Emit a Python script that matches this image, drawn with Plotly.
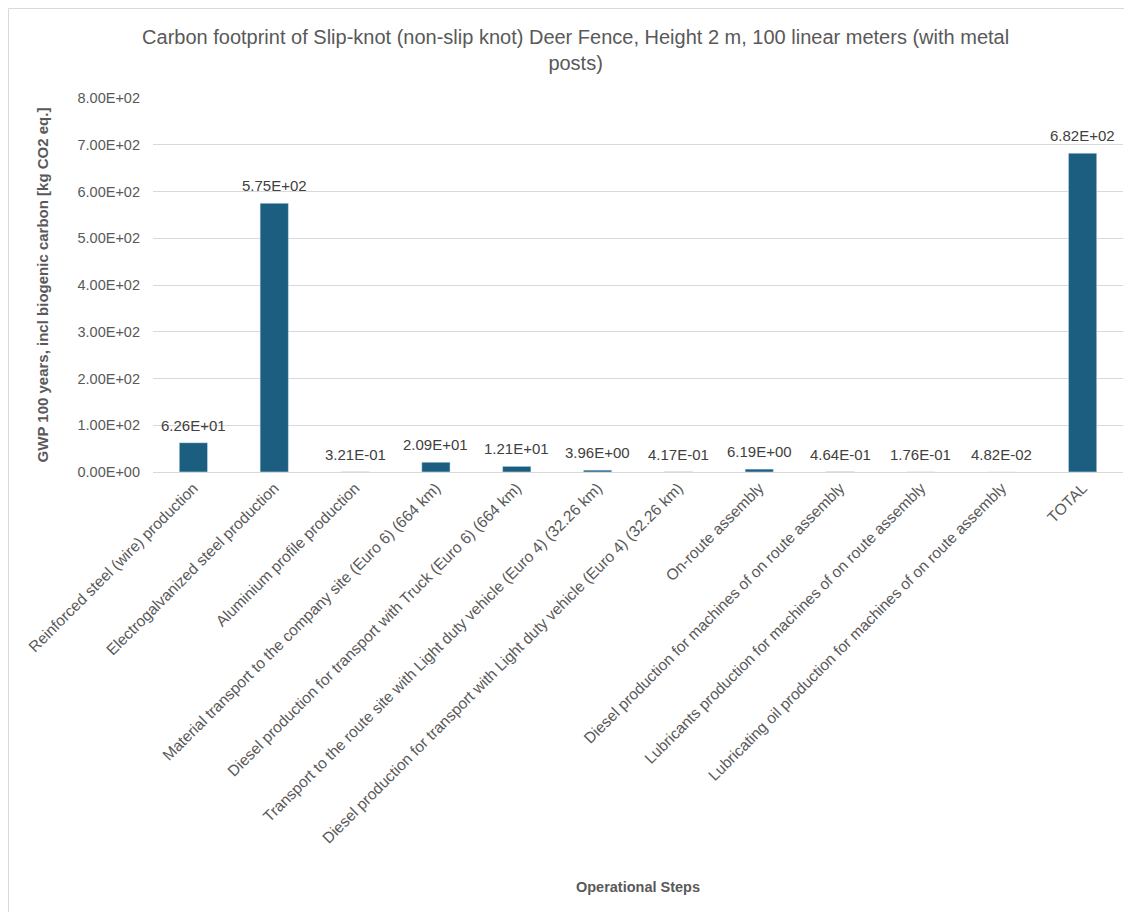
import plotly.graph_objects as go

categories = [
    "Reinforced steel (wire) production",
    "Electrogalvanized steel production",
    "Aluminium profile production",
    "Material transport to the company site (Euro 6) (664 km)",
    "Diesel production for transport with Truck (Euro 6) (664 km)",
    "Transport to the route site with Light duty vehicle (Euro 4) (32.26 km)",
    "Diesel production for transport with Light duty vehicle (Euro 4) (32.26 km)",
    "On-route assembly",
    "Diesel production for machines of on route assembly",
    "Lubricants production for machines of on route assembly",
    "Lubricating oil production for machines of on route assembly",
    "TOTAL",
]
values = [62.6, 575, 0.321, 20.9, 12.1, 3.96, 0.417, 6.19, 0.464, 0.176, 0.0482, 682]
value_labels = ["6.26E+01", "5.75E+02", "3.21E-01", "2.09E+01", "1.21E+01", "3.96E+00",
                "4.17E-01", "6.19E+00", "4.64E-01", "1.76E-01", "4.82E-02", "6.82E+02"]
y_tickvals = [0, 100, 200, 300, 400, 500, 600, 700, 800]
y_ticktext = ["0.00E+00", "1.00E+02", "2.00E+02", "3.00E+02", "4.00E+02",
              "5.00E+02", "6.00E+02", "7.00E+02", "8.00E+02"]

BAR = "#1B5E80"
TXT = "#404040"
GREY = "#595959"
FONT = "Liberation Sans, Arial, sans-serif"

W, H = 1124, 904
ML, MR, MT, MB = 145, 9, 90, 440
PW = W - ML - MR
PH = H - MT - MB

fig = go.Figure(go.Bar(
    x=categories, y=values,
    marker=dict(color=BAR), width=0.35, cliponaxis=False,
))
for cat, val, lab in zip(categories, values, value_labels):
    fig.add_annotation(x=cat, y=val, text=lab, showarrow=False, xanchor="center",
                       yanchor="bottom", yshift=7,
                       font=dict(size=15, color=TXT, family=FONT))

fig.update_layout(
    width=W, height=H,
    paper_bgcolor="white", plot_bgcolor="white",
    margin=dict(l=ML, r=MR, t=MT, b=MB),
    showlegend=False,
    title=dict(
        text="Carbon footprint of Slip-knot (non-slip knot) Deer Fence, Height 2 m, 100 linear meters (with metal<br>posts)",
        x=0.505, xanchor="center", xref="container", y=0.96, yanchor="top",
        font=dict(size=20, color=GREY, family=FONT),
    ),
    font=dict(family=FONT, color=TXT),
)
fig.update_xaxes(
    tickangle=-45, tickfont=dict(size=15.5, color=GREY),
    showline=True, linecolor="#d9d9d9", ticks="",
    title=dict(text="<b>Operational Steps</b>", font=dict(size=14.5, color=GREY), standoff=36),
)
fig.update_yaxes(
    range=[0, 800], tickvals=y_tickvals, ticktext=y_ticktext,
    tickfont=dict(size=14.5, color=GREY), gridcolor="#d9d9d9", zeroline=False,
    ticklabelstandoff=12,
    title=dict(text="<b>GWP 100 years, incl biogenic carbon [kg CO2 eq.]</b>",
               font=dict(size=15, color=GREY), standoff=25),
)
# outer chart border (top and left edges)
fig.add_shape(type="line", xref="paper", yref="paper",
              x0=-(ML - 0.5) / PW, x1=1 + MR / PW, y0=1 + (MT - 0.5) / PH, y1=1 + (MT - 0.5) / PH,
              line=dict(color="#d9d9d9", width=1))
fig.add_shape(type="line", xref="paper", yref="paper",
              x0=-(ML - 0.5) / PW, x1=-(ML - 0.5) / PW, y0=-MB / PH, y1=1 + (MT - 0.5) / PH,
              line=dict(color="#d9d9d9", width=1))
fig.write_html("out.html")
